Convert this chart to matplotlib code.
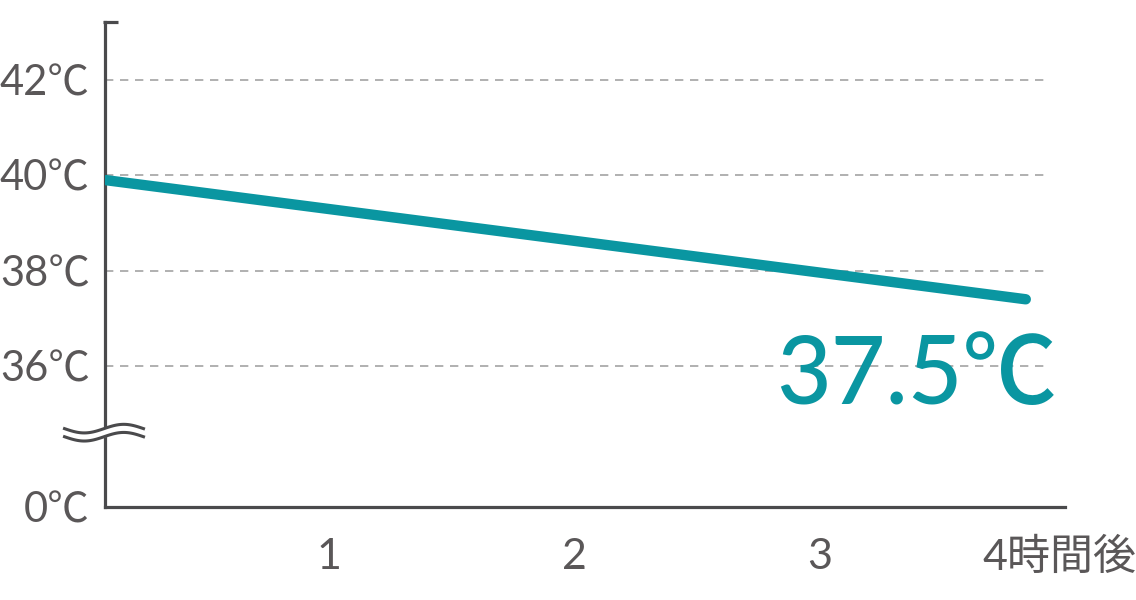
import numpy as np
import matplotlib
matplotlib.use('Agg')
import matplotlib.pyplot as plt
from matplotlib.transforms import ScaledTranslation

plt.rcParams['font.family'] = ['Lato', 'Noto Sans CJK JP']

# data
hours = [0.09, 3.84]
temps = [39.9, 37.4]
grid_temps = [36, 38, 40, 42]
ytick_labels = ['0℃', '36℃', '38℃', '40℃', '42℃']
xticks = [1, 2, 3, 4]
xtick_labels = ['1', '2', '3', '4時間後']
end_label = '37.5℃'

teal = '#0a96a1'
axis_col = '#4a4a4c'
text_col = '#5a5758'
grid_col = '#a3a3a3'

# the bottom of the y axis is a fake "0" below the break
y_zero = 33.04
y_break = 34.6

fig = plt.figure(figsize=(11.36, 6.0), dpi=100)
ax = fig.add_axes([105/1136, 93/600, 960/1136, 485/600])
ax.set_xlim(0.0854, 3.988)
ax.set_ylim(y_zero, 43.22)

for s in ['top', 'right']:
    ax.spines[s].set_visible(False)
for s in ['left', 'bottom']:
    ax.spines[s].set_color(axis_col)
    ax.spines[s].set_linewidth(2.3)

ax.hlines(grid_temps, 0.0854, 3.94, colors=grid_col, linewidth=1.2,
          linestyles=(0, (5, 4)), zorder=1)

ax.plot(hours, temps, color=teal, linewidth=7.5, solid_capstyle='round', zorder=3)

ax.set_yticks([y_zero] + grid_temps)
ax.set_yticklabels(ytick_labels)
ax.set_xticks(xticks)
ax.set_xticklabels(xtick_labels)
ax.tick_params(axis='both', length=0, labelsize=31, labelcolor=text_col)
ax.tick_params(axis='y', pad=11, labelsize=30)
ax.tick_params(axis='x', pad=22)

# nudge the last x label left so it stays inside the picture
last = ax.get_xticklabels()[-1]
last.set_transform(last.get_transform() + ScaledTranslation(-6/100, 0, fig.dpi_scale_trans))

# cap at the top of the y axis
ax.plot([0.077, 0.139], [43.22, 43.22], color=axis_col, linewidth=2.3,
        clip_on=False, solid_capstyle='butt')

# wavy break marks on the y axis
wx = np.linspace(-0.165, 0.157, 100)
wave = 0.09 * np.sin((wx + 0.165) / 0.322 * 2 * np.pi + np.pi)
x0 = 0.0854
ax.fill_between(x0 + wx, y_break + 0.08 + wave, y_break - 0.08 + wave,
                color='white', zorder=4, clip_on=False)
ax.plot(x0 + wx, y_break + 0.085 + wave, color=axis_col, linewidth=2.2,
        clip_on=False, zorder=5)
ax.plot(x0 + wx, y_break - 0.085 + wave, color=axis_col, linewidth=2.2,
        clip_on=False, zorder=5)

ax.text(3.967, 35.2, end_label, color=teal, fontsize=68, fontweight='medium',
        ha='right', va='baseline', zorder=6)

fig.savefig('out.png', dpi=100)
